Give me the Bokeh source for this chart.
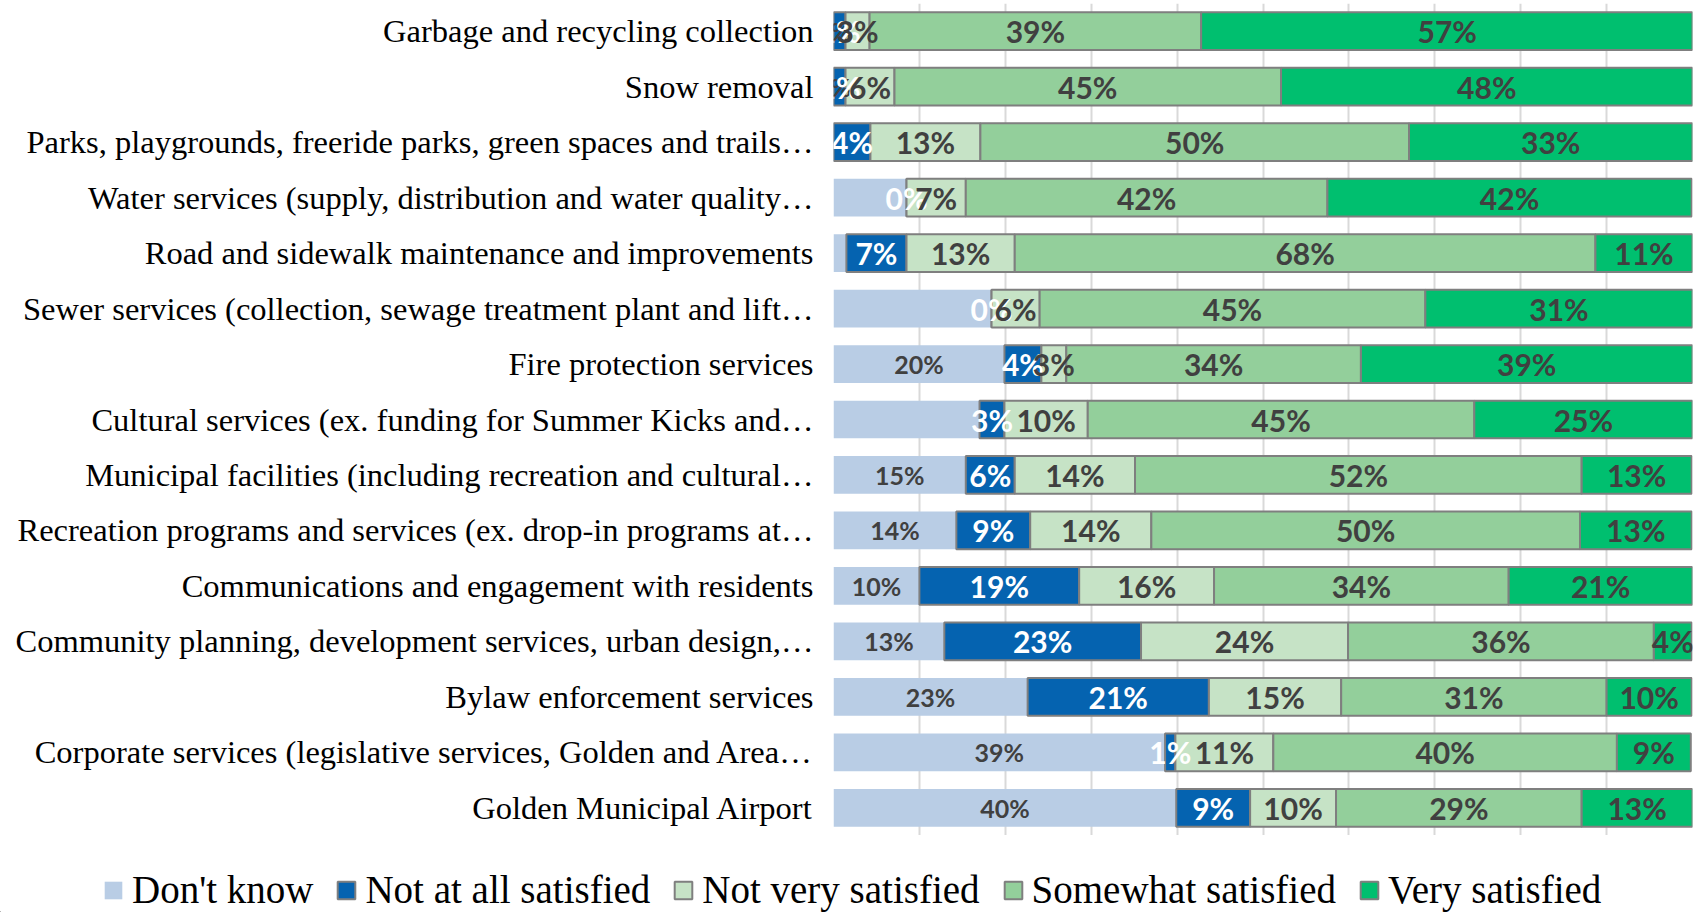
from bokeh.plotting import figure
from bokeh.layouts import column
from bokeh.models import (Range1d, FixedTicker, Legend, LegendItem, ColumnDataSource)
from bokeh.core.properties import value
from bokeh.embed import file_html
from bokeh.resources import INLINE

categories = [
    "Garbage and recycling collection",
    "Snow removal",
    "Parks, playgrounds, freeride parks, green spaces and trails\u2026",
    "Water services (supply, distribution and water quality\u2026",
    "Road and sidewalk maintenance and improvements",
    "Sewer services (collection, sewage treatment plant and lift\u2026",
    "Fire protection services",
    "Cultural services (ex. funding for Summer Kicks and\u2026",
    "Municipal facilities (including recreation and cultural\u2026",
    "Recreation programs and services (ex. drop-in programs at\u2026",
    "Communications and engagement with residents",
    "Community planning, development services, urban design,\u2026",
    "Bylaw enforcement services",
    "Corporate services (legislative services, Golden and Area\u2026",
    "Golden Municipal Airport",
]

series_names = ["Don't know", "Not at all satisfied", "Not very satisfied",
                "Somewhat satisfied", "Very satisfied"]

dont_know = [0, 0, 0, 8.5, 1.5, 18.4, 19.9, 17.0, 15.4, 14.3, 10.0, 12.9, 22.6, 38.6, 39.9]
not_at_all = [1.4, 1.4, 4.3, 0, 7.0, 0, 4.3, 2.9, 5.7, 8.6, 18.6, 22.9, 21.1, 1.2, 8.6]
not_very = [2.8, 5.7, 12.8, 6.9, 12.6, 5.6, 2.9, 9.7, 14.0, 14.1, 15.7, 24.1, 15.4, 11.4, 10.0]
somewhat = [38.6, 45.0, 49.9, 42.1, 67.6, 44.9, 34.3, 45.0, 52.0, 49.9, 34.3, 35.6, 30.9, 40.0, 28.6]
very = [57.3, 47.9, 33.0, 42.4, 11.3, 31.1, 38.6, 25.4, 12.8, 13.0, 21.4, 4.4, 9.9, 8.6, 12.9]

# which "Don't know" data labels are shown in the original
dont_know_labelled = [True, True, False, False, False, False, True, False, True, True,
                      True, True, True, True, True]

colors = ["#b9cde5", "#0563b0", "#c6e3c6", "#93cf9b", "#00bf6f"]
label_colors = ["#404040", "#ffffff", "#404040", "#404040", "#404040"]
label_sizes = ["25px", "30px", "30px", "30px", "30px"]

series = [dont_know, not_at_all, not_very, somewhat, very]
n = len(categories)
rows = list(range(n))

p = figure(width=1698, height=835, output_backend="svg", toolbar_location=None,
           x_range=Range1d(0, 100), y_range=Range1d(n - 0.5, -0.5),
           min_border_left=833, min_border_right=6, min_border_top=3,
           min_border_bottom=0)
p.frame_align = False
p.outline_line_color = None
p.background_fill_color = "white"

p.xaxis.visible = False
p.xgrid.ticker = FixedTicker(ticks=list(range(0, 101, 10)))
p.xgrid.grid_line_color = "#d9d9d9"
p.xgrid.grid_line_width = 2
p.ygrid.grid_line_color = None

ya = p.yaxis[0]
ya.ticker = FixedTicker(ticks=rows)
ya.major_label_overrides = {i: c for i, c in enumerate(categories)}
ya.major_tick_line_color = None
ya.minor_tick_line_color = None
ya.axis_line_color = None
ya.major_label_standoff = 14
ya.major_label_text_font = "Liberation Serif"
ya.major_label_text_font_size = "32.5px"
ya.major_label_text_color = "#000000"

left = [0.0] * n
label_srcs = []
for k, vals in enumerate(series):
    right = [l + v for l, v in zip(left, vals)]
    src = ColumnDataSource(dict(y=rows, left=left, right=right))
    p.hbar(y="y", left="left", right="right", height=0.68, source=src,
           fill_color=colors[k],
           line_color=None if k == 0 else "#7f7f7f",
           line_width=2)
    xs, ys, ts = [], [], []
    for i in rows:
        if k == 0 and not dont_know_labelled[i]:
            continue
        xs.append((left[i] + right[i]) / 2)
        ys.append(i)
        ts.append(f"{round(vals[i])}%")
    label_srcs.append(ColumnDataSource(dict(x=xs, y=ys, t=ts)))
    left = right

for k, src in enumerate(label_srcs):
    p.text(x="x", y="y", text="t", source=src, text_align="center",
           text_baseline="middle", text_font=value("Lato"),
           text_font_style="bold", text_font_size=label_sizes[k],
           text_color=label_colors[k])

# legend in its own strip below the chart
lg = figure(width=1698, height=77, output_backend="svg", toolbar_location=None,
            x_range=Range1d(0, 1), y_range=Range1d(0, 1), min_border=0)
lg.frame_align = False
lg.outline_line_color = None
lg.axis.visible = False
lg.grid.visible = False
swatches = []
for k in range(5):
    # one off-screen bar per series, only used to draw its legend swatch
    swatches.append(lg.hbar(y=[-10], left=[-10], right=[-9], height=0.5,
                            fill_color=colors[k],
                            line_color=None if k == 0 else "#7f7f7f",
                            line_width=2))

legend = Legend(items=[LegendItem(label=series_names[k], renderers=[swatches[k]])
                       for k in range(5)],
                orientation="horizontal", location=(102, 0),
                glyph_width=22, glyph_height=22, label_standoff=8, spacing=22,
                padding=0, margin=0, border_line_color=None,
                background_fill_alpha=0,
                label_text_font="Liberation Serif", label_text_font_size="39px",
                label_text_color="#000000")
lg.add_layout(legend, "center")

open("out.html", "w").write(file_html(column(p, lg, spacing=0), INLINE))
